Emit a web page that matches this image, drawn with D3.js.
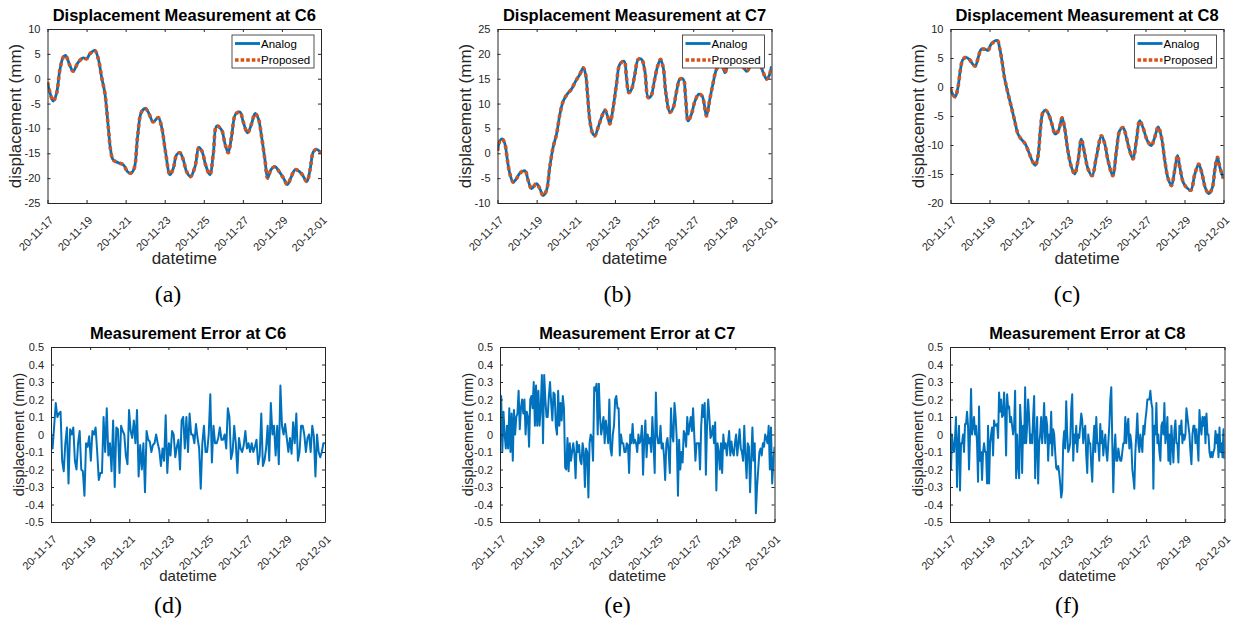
<!DOCTYPE html>
<html>
<head>
<meta charset="utf-8">
<script src="https://cdn.jsdelivr.net/npm/d3@7"></script>
<style>
  body { margin: 0; background: #fff; }
  svg text { font-family: 'Liberation Sans', Arial, Helvetica, sans-serif; }
  .caption { font-family: 'Liberation Serif', 'Times New Roman', serif !important; }
</style>
</head>
<body>
<svg id="fig" width="1237" height="628"></svg>
<script>
// time span of every panel
const startDate = new Date(2020, 10, 17);
const endDate = new Date(2020, 11, 1);

// C6 displacement (days since start, mm)
const c6Days = [0,0.12,0.29,0.46,0.63,0.80,0.92,1.14,1.31,1.57,1.83,2.00,2.17,2.42,2.60,2.77,2.94,3.11,3.23,3.36,
  3.62,3.88,4.10,4.27,4.44,4.61,4.81,5.02,5.19,5.41,5.67,5.84,6.04,6.27,6.44,6.61,6.78,6.95,7.12,7.32,
  7.55,7.75,7.92,8.09,8.31,8.49,8.66,8.91,9.08,9.25,9.42,9.63,9.85,10.02,10.24,10.45,10.62,10.79,10.96,11.13,
  11.27,11.44,11.64,11.86,12.08,12.28,12.45,12.67,12.84,13.04,13.27,13.44,13.61,13.78,14.00];
const c6Disp = [-0.7,-2.7,-4.5,-3,1.7,4.3,4.7,2.7,1.5,3.3,4.2,4.0,5.0,5.7,4,0.3,-3,-9.7,-14.3,-16.3,
  -16.9,-17.3,-18.7,-19,-18,-11.7,-6.7,-6,-7,-8.7,-7.8,-9.7,-14.7,-19.3,-18,-15.3,-14.9,-16.3,-18.7,-19.7,
  -17.7,-13.8,-14.7,-17.3,-19.3,-15,-9.5,-10.3,-13,-14.9,-11.7,-7.1,-6.7,-8.7,-10.9,-9,-7,-8,-11.7,-16.3,
  -20,-18.3,-17.7,-18.7,-20,-21.3,-20,-18.3,-18.5,-19.3,-20.7,-18.3,-14.7,-14.2,-14.9];

// C7 displacement
const c7Days = [0,0.12,0.24,0.37,0.51,0.63,0.80,0.97,1.14,1.40,1.57,1.74,1.99,2.16,2.33,2.50,2.67,2.84,3.02,3.19,
  3.36,3.58,3.78,3.99,4.21,4.38,4.50,4.60,4.72,4.86,4.97,5.14,5.32,5.49,5.62,5.74,5.91,6.08,6.25,6.47,
  6.59,6.71,6.85,7.02,7.19,7.36,7.53,7.70,7.84,8.01,8.18,8.33,8.47,8.60,8.81,8.98,9.15,9.32,9.49,9.61,
  9.74,9.91,10.09,10.29,10.46,10.56,10.68,10.85,11.02,11.19,11.45,11.62,11.79,12.13,12.47,12.73,12.98,13.32,13.58,13.75,
  13.87,14.00];
const c7Disp = [0.5,2.5,2.9,2,-1.5,-4.1,-5.8,-5.1,-4,-3.5,-5.5,-7.1,-6.1,-7.1,-8.5,-7.5,-2.8,1.2,3.9,7.9,
  10.5,12,12.9,14.5,15.9,17.2,15.9,11.9,6.5,4,3.5,5.2,7.3,8.7,7.5,5.9,9.2,13.9,17.9,18.5,
  15.2,12.2,12.9,15.9,18.9,18.9,16.5,11.2,11.5,14.5,17.5,18.9,17.2,12.2,8.2,9.2,12.5,14.9,14.9,11.2,
  6.5,7.9,10.5,11.9,11.5,9.9,7.5,10.9,14.2,16.9,18.2,16.2,17.9,18.9,17.9,16.5,17.9,18.5,16.2,14.9,
  15.5,17.5];

// C8 displacement
const c8Days = [0,0.12,0.24,0.38,0.51,0.63,0.80,0.98,1.15,1.27,1.44,1.57,1.78,1.92,2.09,2.40,2.52,2.64,2.77,2.94,
  3.11,3.29,3.46,3.63,3.83,4.02,4.23,4.35,4.48,4.62,4.74,4.88,5.03,5.20,5.37,5.54,5.72,5.85,6.02,6.20,
  6.37,6.54,6.71,6.88,7.05,7.26,7.48,7.74,7.91,8.08,8.32,8.51,8.68,8.85,9.02,9.19,9.36,9.53,9.70,9.87,
  10.10,10.30,10.47,10.65,10.82,10.99,11.16,11.33,11.48,11.64,11.76,11.93,12.10,12.32,12.53,12.73,12.90,13.08,13.25,13.43,
  13.55,13.69,13.81,14.00];
const c8Disp = [-0.2,-1.3,-1.7,-0.1,3.0,4.7,5.1,4.7,3.9,3.6,5.3,6.5,6.5,6.3,7.4,8.0,6.7,4.5,1.6,-1.0,
  -3.3,-5.8,-8.1,-9.0,-9.8,-11.3,-13,-13.5,-12.1,-7,-4.4,-4,-4.7,-6.4,-8.1,-7.5,-5.3,-7,-11,-13.8,
  -15,-12.7,-9,-11.5,-14.1,-15.3,-12.1,-8.4,-9.8,-12.7,-15.3,-11,-7.5,-7,-8.7,-11,-12.4,-9.3,-5.8,-7,
  -9.3,-10.1,-8.7,-6.9,-8.7,-12.7,-15.8,-17,-14.7,-11.8,-13.8,-16.4,-17.3,-17.8,-15,-13.3,-15,-17.5,-18.4,-17.3,
  -14.4,-12.1,-13.8,-15.8];

// measurement errors (mm), evenly spaced over the period
const c6Err = [0.0,-0.08,0.05,0.18,0.1,0.12,0.13,-0.15,-0.21,-0.05,0.04,-0.28,0.03,0.0,0.04,-0.15,-0.2,-0.05,0.02,-0.2,
  -0.21,-0.35,-0.05,-0.07,-0.01,-0.15,0.02,0.0,0.04,-0.1,-0.26,-0.22,-0.22,0.1,-0.1,0.15,-0.12,-0.05,-0.21,0.08,
  -0.3,0.04,0.03,-0.22,0.05,0.02,0.0,-0.12,-0.17,0.14,0.02,-0.02,0.08,-0.05,0.14,-0.24,-0.06,-0.2,-0.05,-0.33,
  0.02,-0.03,-0.04,-0.1,-0.06,-0.05,0.0,-0.05,-0.09,-0.18,-0.08,-0.15,0.11,-0.22,-0.05,-0.12,0.02,0.0,-0.13,-0.07,
  -0.03,-0.2,0.08,0.1,-0.08,0.1,-0.1,0.12,0.0,0.0,-0.05,0.06,-0.02,-0.08,-0.31,-0.05,0.05,-0.1,-0.1,0.0,
  0.23,-0.16,0.05,-0.05,-0.05,-0.02,0.04,-0.03,-0.03,0.0,-0.08,0.15,0.1,-0.14,-0.1,0.05,-0.05,-0.22,-0.02,-0.08,
  -0.1,-0.06,0.02,-0.08,-0.05,-0.1,-0.05,-0.1,-0.07,-0.03,-0.17,-0.12,0.12,-0.18,-0.15,-0.08,0.05,-0.15,0.18,0.0,
  0.05,-0.12,0.05,-0.17,0.28,0.05,0.0,0.06,-0.02,-0.1,-0.02,-0.11,0.07,-0.05,0.12,-0.15,-0.1,0.05,0.05,0.0,
  -0.1,-0.02,0.0,-0.1,0.05,-0.01,-0.24,0.0,-0.1,-0.13,-0.1,-0.05,-0.05];
const c7Err = [-0.05,0.22,-0.1,0.13,0.0,-0.08,0.05,-0.08,0.15,-0.1,0.12,-0.15,0.14,0.0,0.1,0.12,0.25,0.03,0.15,0.2,
  0.12,0.2,0.0,0.13,0.1,-0.07,0.2,0.22,0.15,0.3,0.05,0.28,0.05,0.25,0.05,0.15,0.34,-0.05,0.34,0.2,
  0.1,0.1,0.22,0.3,0.18,0.08,0.24,0.23,0.05,0.0,0.25,0.05,0.18,0.08,0.22,0.15,-0.19,-0.2,-0.02,-0.21,
  -0.05,-0.15,-0.1,-0.05,-0.11,-0.25,-0.04,-0.1,-0.06,-0.15,-0.17,-0.05,-0.1,-0.3,-0.08,-0.1,-0.36,-0.05,0.0,-0.02,
  -0.15,0.27,0.25,0.29,0.0,0.29,0.1,0.0,0.05,0.1,-0.05,0.08,0.02,-0.05,0.2,-0.08,-0.12,0.0,0.05,0.2,
  0.22,0.15,0.15,-0.12,0.0,-0.05,-0.05,-0.1,-0.1,-0.05,-0.06,-0.22,0.0,-0.05,0.06,-0.05,-0.03,-0.05,-0.1,0.0,
  -0.05,-0.03,0.05,-0.23,-0.03,0.08,-0.13,0.0,-0.05,-0.02,-0.1,0.1,-0.05,-0.22,0.24,0.0,-0.05,-0.05,0.05,-0.08,
  -0.05,-0.12,-0.26,-0.05,-0.02,-0.1,-0.22,0.15,0.0,-0.04,0.18,0.1,-0.03,-0.35,-0.03,-0.2,-0.1,-0.16,0.02,0.0,
  -0.07,0.1,0.0,0.05,0.1,0.02,0.15,0.0,-0.15,-0.05,-0.05,-0.05,-0.2,0.05,0.17,0.1,0.18,-0.23,0.05,0.2,
  0.1,-0.02,0.0,0.05,-0.05,0.07,-0.32,-0.05,-0.1,-0.2,-0.05,-0.22,0.0,-0.08,-0.05,-0.12,-0.05,0.02,-0.12,-0.04,
  -0.1,-0.12,-0.05,0.0,-0.12,-0.05,0.03,-0.08,-0.1,-0.15,0.05,-0.12,-0.25,-0.05,-0.07,-0.33,-0.15,0.04,-0.15,-0.05,
  -0.45,-0.3,-0.2,-0.1,-0.08,-0.12,-0.05,-0.07,0.0,-0.02,-0.05,0.05,-0.2,0.04,-0.28,-0.16,-0.07];
const c8Err = [0.15,-0.2,0.0,-0.08,-0.1,-0.02,0.1,-0.3,-0.05,0.05,-0.32,-0.05,-0.05,0.0,-0.1,0.06,0.06,0.13,0.05,-0.2,
  0.0,0.26,0.0,0.05,0.1,0.0,0.05,-0.05,-0.27,0.16,-0.15,-0.1,-0.26,-0.1,-0.05,-0.1,-0.1,-0.28,0.05,-0.28,
  -0.05,0.0,0.04,-0.12,0.08,0.05,0.05,0.06,-0.02,0.24,0.13,0.2,0.1,0.11,0.24,0.12,-0.12,0.23,0.15,0.16,
  0.07,0.1,0.05,0.0,0.05,0.25,-0.25,0.0,-0.18,-0.25,0.17,0.05,-0.22,0.05,-0.05,0.27,-0.05,0.05,0.2,0.1,
  -0.05,0.0,-0.05,0.1,0.22,-0.25,-0.05,0.1,-0.28,-0.05,0.0,0.1,-0.05,0.05,0.18,-0.05,0.1,0.05,-0.15,0.0,
  -0.05,0.13,-0.12,0.03,0.0,-0.1,-0.19,-0.2,-0.18,-0.22,-0.28,-0.36,-0.32,-0.05,0.02,-0.08,0.19,0.0,-0.1,-0.08,
  -0.05,0.15,0.23,-0.15,0.0,-0.05,0.05,-0.1,0.0,-0.02,0.05,0.12,0.08,-0.05,0.02,0.05,-0.12,-0.22,0.0,-0.05,
  -0.05,-0.18,-0.27,-0.05,0.05,-0.1,0.1,-0.05,-0.05,-0.15,0.06,-0.05,0.02,-0.12,-0.05,0.0,-0.1,-0.15,-0.05,0.05,
  0.2,0.27,-0.05,-0.33,-0.1,0.0,-0.15,-0.15,-0.08,-0.12,-0.15,-0.15,-0.1,-0.05,-0.05,0.1,-0.05,0.05,0.09,-0.08,
  0.0,-0.05,-0.2,-0.25,-0.31,-0.1,0.0,0.12,-0.05,-0.1,0.0,-0.05,-0.1,0.05,0.0,0.08,0.13,0.2,0.2,0.2,
  0.25,0.18,0.15,-0.31,0.05,0.0,0.18,-0.05,0.0,-0.1,-0.15,0.05,0.07,0.0,0.18,-0.05,0.0,0.1,-0.15,0.0,
  -0.17,0.05,-0.05,-0.16,0.02,0.08,-0.05,-0.05,-0.16,0.05,0.0,0.08,-0.05,0.0,-0.03,0.0,0.15,0.1,0.05,0.0,
  -0.1,-0.17,0.0,0.05,0.05,-0.05,0.03,-0.05,-0.15,0.14,0.05,0.0,0.1,0.05,0.1,-0.05,0.12,0.0,0.0,-0.1,
  -0.13,-0.1,-0.13,-0.1,-0.08,0.02,-0.05,0.0,-0.13,0.04,-0.1,-0.05,-0.13,0.03,-0.14];

// y ticks
const c6Ticks = [-25, -20, -15, -10, -5, 0, 5, 10];
const c7Ticks = [-10, -5, 0, 5, 10, 15, 20, 25];
const c8Ticks = [-20, -15, -10, -5, 0, 5, 10];
const errTicks = [-0.5, -0.4, -0.3, -0.2, -0.1, 0, 0.1, 0.2, 0.3, 0.4, 0.5];
const errTickLabels = ['-0.5', '-0.4', '-0.3', '-0.2', '-0.1', '0', '0.1', '0.2', '0.3', '0.4', '0.5'];

const legendNames = ['Analog', 'Proposed'];

const blue = '#0072BD';
const orange = '#D95319';
const axisColor = '#262626';

const svg = d3.select('#fig');
const dayMs = 864e5;
let toDate = d => new Date(startDate.getTime() + d * dayMs);

function drawAxes(g, x, y, p, yTicks, yLabels) {
    let bottom = g.append('g').attr('transform', `translate(0,${p.bottom})`)
        .call(d3.axisBottom(x).ticks(d3.timeDay.every(2)).tickFormat(d3.timeFormat('%y-%m-%d'))
            .tickSizeInner(-3).tickSizeOuter(0));
    bottom.selectAll('text')
        .attr('x', 0).attr('y', 0).attr('dy', 0)
        .attr('text-anchor', 'end')
        .attr('transform', 'translate(6,18) rotate(-45)');

    let left = g.append('g').attr('transform', `translate(${p.left},0)`)
        .call(d3.axisLeft(y).tickValues(yTicks).tickFormat((d, i) => yLabels[i])
            .tickSizeInner(-3).tickSizeOuter(0).tickPadding(7));

    let top = g.append('g').attr('transform', `translate(0,${p.top})`)
        .call(d3.axisTop(x).ticks(d3.timeDay.every(2)).tickFormat('').tickSizeInner(-3).tickSizeOuter(0));
    let right = g.append('g').attr('transform', `translate(${p.right},0)`)
        .call(d3.axisRight(y).tickValues(yTicks).tickFormat('').tickSizeInner(-3).tickSizeOuter(0));

    for (let a of [bottom, left, top, right]) {
        a.attr('font-size', 11).attr('color', axisColor);
        a.selectAll('path, line').attr('stroke-width', 1);
    }
}

function drawPanel(p) {
    let x = d3.scaleTime().domain([startDate, endDate]).range([p.left, p.right]);
    let y = d3.scaleLinear().domain([p.yTicks[0], p.yTicks[p.yTicks.length - 1]]).range([p.bottom, p.top]);
    let g = svg.append('g');

    let clipId = 'clip-' + p.tag;
    g.append('clipPath').attr('id', clipId).append('rect')
        .attr('x', p.left).attr('y', p.top)
        .attr('width', p.right - p.left).attr('height', p.bottom - p.top);

    let plot = g.append('g').attr('clip-path', `url(#${clipId})`);

    if (p.kind === 'disp') {
        let data = p.days.map((d, i) => ({t: toDate(d), v: p.vals[i]}));
        let line = d3.line().x(d => x(d.t)).y(d => y(d.v)).curve(d3.curveCatmullRom.alpha(0.5));
        plot.append('path').datum(data).attr('d', line)
            .attr('fill', 'none').attr('stroke', blue).attr('stroke-width', 2.8);
        plot.append('path').datum(data).attr('d', line)
            .attr('fill', 'none').attr('stroke', orange).attr('stroke-width', 3.6)
            .attr('stroke-dasharray', '3.4,3.6');
    } else {
        let n = p.vals.length;
        let step = (endDate - startDate) / (n - 1);
        let data = p.vals.map((v, i) => ({t: new Date(startDate.getTime() + i * step), v: v}));
        let line = d3.line().x(d => x(d.t)).y(d => y(d.v));
        plot.append('path').datum(data).attr('d', line)
            .attr('fill', 'none').attr('stroke', blue).attr('stroke-width', 2)
            .attr('stroke-linejoin', 'round');
    }

    drawAxes(g, x, y, p, p.yTicks, p.yLabels);

    let cx = (p.left + p.right) / 2;
    let cy = (p.top + p.bottom) / 2;
    let big = p.kind === 'disp';

    g.append('text').text(p.title)
        .attr('x', cx).attr('y', p.top - 8)
        .attr('text-anchor', 'middle').attr('font-weight', 'bold')
        .attr('font-size', 16.5).attr('fill', '#000');

    g.append('text').text('displacement (mm)')
        .attr('transform', `translate(${p.left - 27},${cy}) rotate(-90)`)
        .attr('text-anchor', 'middle').attr('font-size', big ? 17 : 14.5).attr('fill', axisColor);

    g.append('text').text('datetime')
        .attr('x', cx).attr('y', p.bottom + (big ? 61 : 59))
        .attr('text-anchor', 'middle').attr('font-size', big ? 17 : 15).attr('fill', axisColor);

    g.append('text').attr('class', 'caption').text(p.caption)
        .attr('x', p.capX).attr('y', p.bottom + (big ? 99 : 91))
        .attr('text-anchor', 'middle').attr('font-size', 24).attr('fill', '#000');

    if (big) {
        let lw = 82, lh = 33;
        let lx = p.right - 7 - lw, ly = p.top + 6;
        let leg = g.append('g');
        leg.append('rect').attr('x', lx).attr('y', ly).attr('width', lw).attr('height', lh)
            .attr('fill', '#fff').attr('stroke', axisColor).attr('stroke-width', 0.8);
        legendNames.forEach((name, i) => {
            let yy = ly + 8.5 + i * 16.5;
            let s = leg.append('line').attr('x1', lx + 3).attr('x2', lx + 28).attr('y1', yy).attr('y2', yy);
            if (i === 0) {
                s.attr('stroke', blue).attr('stroke-width', 2.8);
            } else {
                s.attr('stroke', orange).attr('stroke-width', 3.6).attr('stroke-dasharray', '3.6,2');
            }
            leg.append('text').text(name).attr('x', lx + 29).attr('y', yy).attr('dy', '0.35em')
                .attr('font-size', 11.5).attr('fill', '#000');
        });
    }
}

const dispLabels = t => t.map(String);

const panels = [
    {tag: 'a', kind: 'disp', days: c6Days, vals: c6Disp, yTicks: c6Ticks, yLabels: dispLabels(c6Ticks),
        left: 47.5, right: 321, top: 29, bottom: 203, title: 'Displacement Measurement at C6', caption: '(a)', capX: 168},
    {tag: 'b', kind: 'disp', days: c7Days, vals: c7Disp, yTicks: c7Ticks, yLabels: dispLabels(c7Ticks),
        left: 497.5, right: 771.5, top: 29, bottom: 203, title: 'Displacement Measurement at C7', caption: '(b)', capX: 617.5},
    {tag: 'c', kind: 'disp', days: c8Days, vals: c8Disp, yTicks: c8Ticks, yLabels: dispLabels(c8Ticks),
        left: 950.5, right: 1223.5, top: 29, bottom: 203, title: 'Displacement Measurement at C8', caption: '(c)', capX: 1067},
    {tag: 'd', kind: 'err', vals: c6Err, yTicks: errTicks, yLabels: errTickLabels,
        left: 51, right: 325, top: 347, bottom: 522, title: 'Measurement Error at C6', caption: '(d)', capX: 168},
    {tag: 'e', kind: 'err', vals: c7Err, yTicks: errTicks, yLabels: errTickLabels,
        left: 500, right: 774.5, top: 347, bottom: 522, title: 'Measurement Error at C7', caption: '(e)', capX: 617.5},
    {tag: 'f', kind: 'err', vals: c8Err, yTicks: errTicks, yLabels: errTickLabels,
        left: 950, right: 1224.5, top: 347, bottom: 522, title: 'Measurement Error at C8', caption: '(f)', capX: 1067}
];

panels.forEach(drawPanel);
</script>
</body>
</html>
